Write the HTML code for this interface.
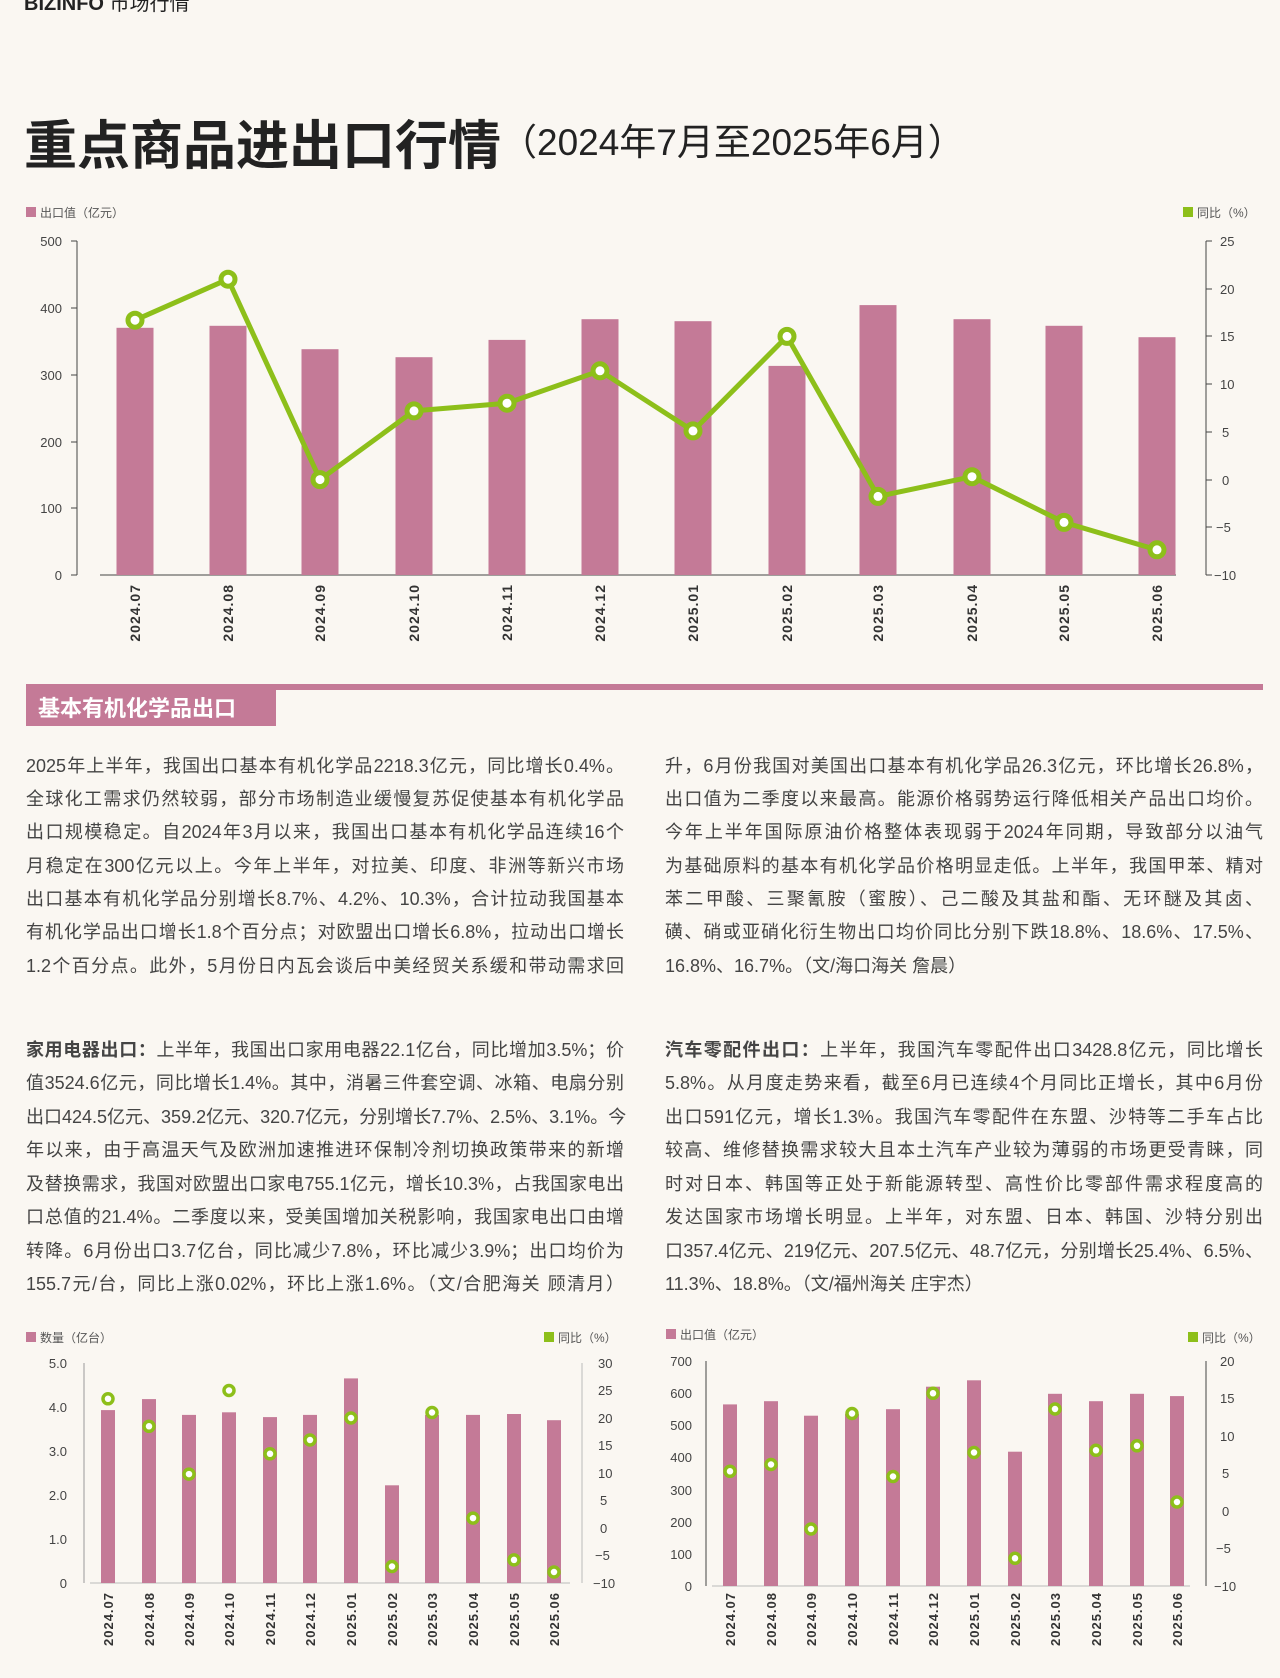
<!DOCTYPE html>
<html><head><meta charset="utf-8"><style>
body{margin:0;background:#faf7f2;}
#p{position:relative;width:1280px;height:1678px;overflow:hidden;background:#faf7f2;font-family:"Liberation Sans","Noto Sans CJK SC",sans-serif;color:#3a3a3a;}
.ln{position:absolute;width:598px;font-size:18px;line-height:20px;white-space:nowrap;text-align:justify;text-align-last:justify;color:#444;}
.ln.e{text-align-last:left;}
svg{position:absolute;left:0;top:0;}
</style></head><body><div id="p">
<svg width="1280" height="1678" font-family="Liberation Sans, Noto Sans CJK SC, sans-serif">
<text x="24" y="10" font-size="20" font-weight="bold" fill="#222">BIZINFO <tspan font-weight="normal">市场行情</tspan></text>
<text x="24" y="164" font-size="53" font-weight="bold" fill="#222">重点商品进出口行情</text>
<text x="500" y="155" font-size="37" fill="#222">（2024年7月至2025年6月）</text>
<rect x="26" y="207" width="10" height="10" fill="#c47a97"/><text x="40" y="217" font-size="12" fill="#555">出口值（亿元）</text>
<rect x="1183" y="207" width="10" height="10" fill="#8dbf1a"/><text x="1197" y="217" font-size="12" fill="#555">同比（%）</text>
<g font-size="13" fill="#444">
<line x1="77" y1="241" x2="77" y2="575" stroke="#444"/>
<line x1="1206" y1="241" x2="1206" y2="575" stroke="#444"/>
<line x1="100" y1="575" x2="1176" y2="575" stroke="#444"/>
<g text-anchor="end"><text x="62" y="246">500</text><text x="62" y="313">400</text><text x="62" y="380">300</text><text x="62" y="447">200</text><text x="62" y="513">100</text><text x="62" y="580">0</text></g>
<g stroke="#444"><line x1="71" y1="241" x2="77" y2="241"/><line x1="71" y1="308" x2="77" y2="308"/><line x1="71" y1="375" x2="77" y2="375"/><line x1="71" y1="442" x2="77" y2="442"/><line x1="71" y1="508" x2="77" y2="508"/><line x1="71" y1="575" x2="77" y2="575"/>
<line x1="1206" y1="241" x2="1212" y2="241"/><line x1="1206" y1="289" x2="1212" y2="289"/><line x1="1206" y1="336" x2="1212" y2="336"/><line x1="1206" y1="384" x2="1212" y2="384"/><line x1="1206" y1="432" x2="1212" y2="432"/><line x1="1206" y1="480" x2="1212" y2="480"/><line x1="1206" y1="527" x2="1212" y2="527"/><line x1="1206" y1="575" x2="1212" y2="575"/></g>
<g><text x="1220" y="246">25</text><text x="1220" y="294">20</text><text x="1220" y="341">15</text><text x="1220" y="389">10</text><text x="1222" y="437">5</text><text x="1222" y="485">0</text><text x="1216" y="532">−5</text><text x="1214" y="580">−10</text></g>
</g>
<g fill="#c47a97">
<rect x="116.5" y="327.8" width="37" height="247.2"/><rect x="209.5" y="325.8" width="37" height="249.2"/><rect x="301.5" y="349.2" width="37" height="225.8"/><rect x="395.5" y="357.2" width="37" height="217.8"/><rect x="488.5" y="339.9" width="37" height="235.1"/><rect x="581.5" y="319.2" width="37" height="255.8"/><rect x="674.5" y="321.2" width="37" height="253.8"/><rect x="768.5" y="365.9" width="37" height="209.1"/><rect x="859.5" y="305.1" width="37" height="269.9"/><rect x="953.5" y="319.2" width="37" height="255.8"/><rect x="1045.5" y="325.8" width="37" height="249.2"/><rect x="1138.5" y="337.2" width="37" height="237.8"/>
</g>
<polyline fill="none" stroke="#8dbf1a" stroke-width="5" stroke-linejoin="round" points="135,320.2 228,279.2 320,479.6 414,410.9 507,403.2 600,370.8 693,430.9 787,336.4 878,496.4 972,476.7 1064,522.4 1157,549.8"/>
<g fill="#fff" stroke="#8dbf1a" stroke-width="5">
<circle cx="135" cy="320.2" r="7"/><circle cx="228" cy="279.2" r="7"/><circle cx="320" cy="479.6" r="7"/><circle cx="414" cy="410.9" r="7"/><circle cx="507" cy="403.2" r="7"/><circle cx="600" cy="370.8" r="7"/><circle cx="693" cy="430.9" r="7"/><circle cx="787" cy="336.4" r="7"/><circle cx="878" cy="496.4" r="7"/><circle cx="972" cy="476.7" r="7"/><circle cx="1064" cy="522.4" r="7"/><circle cx="1157" cy="549.8" r="7"/>
</g>
<g font-size="14" font-weight="bold" fill="#333" text-anchor="end" letter-spacing="1">
<text transform="translate(140,584) rotate(-90)">2024.07</text><text transform="translate(233,584) rotate(-90)">2024.08</text><text transform="translate(325,584) rotate(-90)">2024.09</text><text transform="translate(419,584) rotate(-90)">2024.10</text><text transform="translate(512,584) rotate(-90)">2024.11</text><text transform="translate(605,584) rotate(-90)">2024.12</text><text transform="translate(698,584) rotate(-90)">2025.01</text><text transform="translate(792,584) rotate(-90)">2025.02</text><text transform="translate(883,584) rotate(-90)">2025.03</text><text transform="translate(977,584) rotate(-90)">2025.04</text><text transform="translate(1069,584) rotate(-90)">2025.05</text><text transform="translate(1162,584) rotate(-90)">2025.06</text>
</g>
<rect x="26" y="684" width="1237" height="6" fill="#c47a97"/>
<rect x="26" y="690" width="250" height="36" fill="#c47a97"/>
<text x="38" y="716" font-size="22" font-weight="bold" fill="#fff">基本有机化学品出口</text>

<rect x="26" y="1332" width="10" height="10" fill="#c47a97"/><text x="40" y="1342" font-size="12" fill="#555">数量（亿台）</text>
<rect x="544" y="1332" width="10" height="10" fill="#8dbf1a"/><text x="558" y="1342" font-size="12" fill="#555">同比（%）</text>
<g font-size="13" fill="#444">
<line x1="84" y1="1363" x2="84" y2="1583" stroke="#999"/>
<line x1="582" y1="1363" x2="582" y2="1583" stroke="#bbb"/>
<line x1="90" y1="1583" x2="570" y2="1583" stroke="#bbb"/>
<g text-anchor="end"><text x="67" y="1368">5.0</text><text x="67" y="1412">4.0</text><text x="67" y="1456">3.0</text><text x="67" y="1500">2.0</text><text x="67" y="1544">1.0</text><text x="67" y="1588">0</text></g>
<g><text x="598" y="1368">30</text><text x="598" y="1395">25</text><text x="598" y="1423">20</text><text x="598" y="1450">15</text><text x="598" y="1478">10</text><text x="600" y="1505">5</text><text x="600" y="1533">0</text><text x="595" y="1560">−5</text><text x="593" y="1588">−10</text></g>
</g>
<g fill="#c47a97">
<rect x="101" y="1410.1" width="14" height="172.9"/><rect x="142" y="1399.1" width="14" height="183.9"/><rect x="182" y="1414.9" width="14" height="168.1"/><rect x="222" y="1412.3" width="14" height="170.7"/><rect x="263" y="1417.1" width="14" height="165.9"/><rect x="303" y="1414.9" width="14" height="168.1"/><rect x="344" y="1378.4" width="14" height="204.6"/><rect x="385" y="1485.3" width="14" height="97.7"/><rect x="425" y="1414.9" width="14" height="168.1"/><rect x="466" y="1414.9" width="14" height="168.1"/><rect x="507" y="1414" width="14" height="169"/><rect x="547" y="1420.2" width="14" height="162.8"/>
</g>
<g fill="#fff" stroke="#8dbf1a" stroke-width="3.5">
<circle cx="108" cy="1398.8" r="5"/><circle cx="149" cy="1426.3" r="5"/><circle cx="189" cy="1474.1" r="5"/><circle cx="229" cy="1390.5" r="5"/><circle cx="270" cy="1453.8" r="5"/><circle cx="310" cy="1440" r="5"/><circle cx="351" cy="1418" r="5"/><circle cx="392" cy="1566.5" r="5"/><circle cx="432" cy="1412.5" r="5"/><circle cx="473" cy="1518.1" r="5"/><circle cx="514" cy="1559.9" r="5"/><circle cx="554" cy="1572" r="5"/>
</g>
<g font-size="13" font-weight="bold" fill="#333" text-anchor="end" letter-spacing="1">
<text transform="translate(113,1592) rotate(-90)">2024.07</text><text transform="translate(154,1592) rotate(-90)">2024.08</text><text transform="translate(194,1592) rotate(-90)">2024.09</text><text transform="translate(234,1592) rotate(-90)">2024.10</text><text transform="translate(275,1592) rotate(-90)">2024.11</text><text transform="translate(315,1592) rotate(-90)">2024.12</text><text transform="translate(356,1592) rotate(-90)">2025.01</text><text transform="translate(397,1592) rotate(-90)">2025.02</text><text transform="translate(437,1592) rotate(-90)">2025.03</text><text transform="translate(478,1592) rotate(-90)">2025.04</text><text transform="translate(519,1592) rotate(-90)">2025.05</text><text transform="translate(559,1592) rotate(-90)">2025.06</text>
</g>

<rect x="666" y="1329" width="10" height="10" fill="#c47a97"/><text x="680" y="1339" font-size="12" fill="#555">出口值（亿元）</text>
<rect x="1188" y="1332" width="10" height="10" fill="#8dbf1a"/><text x="1202" y="1342" font-size="12" fill="#555">同比（%）</text>
<g font-size="13" fill="#444">
<line x1="706" y1="1361" x2="706" y2="1586" stroke="#444"/>
<line x1="1206" y1="1361" x2="1206" y2="1586" stroke="#444"/>
<line x1="712" y1="1586" x2="1190" y2="1586" stroke="#bbb"/>
<g text-anchor="end"><text x="692" y="1366">700</text><text x="692" y="1398">600</text><text x="692" y="1430">500</text><text x="692" y="1462">400</text><text x="692" y="1495">300</text><text x="692" y="1527">200</text><text x="692" y="1559">100</text><text x="692" y="1591">0</text></g>
<g><text x="1220" y="1366">20</text><text x="1220" y="1403">15</text><text x="1220" y="1441">10</text><text x="1222" y="1478">5</text><text x="1222" y="1516">0</text><text x="1216" y="1553">−5</text><text x="1214" y="1591">−10</text></g>
</g>
<g fill="#c47a97">
<rect x="723" y="1404.4" width="14" height="181.6"/><rect x="764" y="1401.2" width="14" height="184.8"/><rect x="804" y="1415.7" width="14" height="170.3"/><rect x="845" y="1414.1" width="14" height="171.9"/><rect x="886" y="1409.2" width="14" height="176.8"/><rect x="926" y="1386.7" width="14" height="199.3"/><rect x="967" y="1380.3" width="14" height="205.7"/><rect x="1008" y="1451.7" width="14" height="134.3"/><rect x="1048" y="1393.8" width="14" height="192.2"/><rect x="1089" y="1401.2" width="14" height="184.8"/><rect x="1130" y="1393.8" width="14" height="192.2"/><rect x="1170" y="1396.1" width="14" height="189.9"/>
</g>
<g fill="#fff" stroke="#8dbf1a" stroke-width="3.5">
<circle cx="730" cy="1471.3" r="5"/><circle cx="771" cy="1464.5" r="5"/><circle cx="811" cy="1529" r="5"/><circle cx="852" cy="1413.5" r="5"/><circle cx="893" cy="1476.5" r="5"/><circle cx="933" cy="1393.3" r="5"/><circle cx="974" cy="1452.5" r="5"/><circle cx="1015" cy="1558.3" r="5"/><circle cx="1055" cy="1409" r="5"/><circle cx="1096" cy="1450.3" r="5"/><circle cx="1137" cy="1445.8" r="5"/><circle cx="1177" cy="1502" r="5"/>
</g>
<g font-size="13" font-weight="bold" fill="#333" text-anchor="end" letter-spacing="1">
<text transform="translate(735,1592) rotate(-90)">2024.07</text><text transform="translate(776,1592) rotate(-90)">2024.08</text><text transform="translate(816,1592) rotate(-90)">2024.09</text><text transform="translate(857,1592) rotate(-90)">2024.10</text><text transform="translate(898,1592) rotate(-90)">2024.11</text><text transform="translate(938,1592) rotate(-90)">2024.12</text><text transform="translate(979,1592) rotate(-90)">2025.01</text><text transform="translate(1020,1592) rotate(-90)">2025.02</text><text transform="translate(1060,1592) rotate(-90)">2025.03</text><text transform="translate(1101,1592) rotate(-90)">2025.04</text><text transform="translate(1142,1592) rotate(-90)">2025.05</text><text transform="translate(1182,1592) rotate(-90)">2025.06</text>
</g>
</svg>

<div class="ln" style="left:26px;top:756px">2025年上半年，我国出口基本有机化学品2218.3亿元，同比增长0.4%。</div>
<div class="ln" style="left:26px;top:789px">全球化工需求仍然较弱，部分市场制造业缓慢复苏促使基本有机化学品</div>
<div class="ln" style="left:26px;top:822px">出口规模稳定。自2024年3月以来，我国出口基本有机化学品连续16个</div>
<div class="ln" style="left:26px;top:856px">月稳定在300亿元以上。今年上半年，对拉美、印度、非洲等新兴市场</div>
<div class="ln" style="left:26px;top:889px">出口基本有机化学品分别增长8.7%、4.2%、10.3%，合计拉动我国基本</div>
<div class="ln" style="left:26px;top:922px">有机化学品出口增长1.8个百分点；对欧盟出口增长6.8%，拉动出口增长</div>
<div class="ln" style="left:26px;top:956px">1.2个百分点。此外，5月份日内瓦会谈后中美经贸关系缓和带动需求回</div>

<div class="ln" style="left:665px;top:756px">升，6月份我国对美国出口基本有机化学品26.3亿元，环比增长26.8%，</div>
<div class="ln" style="left:665px;top:789px">出口值为二季度以来最高。能源价格弱势运行降低相关产品出口均价。</div>
<div class="ln" style="left:665px;top:822px">今年上半年国际原油价格整体表现弱于2024年同期，导致部分以油气</div>
<div class="ln" style="left:665px;top:856px">为基础原料的基本有机化学品价格明显走低。上半年，我国甲苯、精对</div>
<div class="ln" style="left:665px;top:889px">苯二甲酸、三聚氰胺（蜜胺）、己二酸及其盐和酯、无环醚及其卤、</div>
<div class="ln" style="left:665px;top:922px">磺、硝或亚硝化衍生物出口均价同比分别下跌18.8%、18.6%、17.5%、</div>
<div class="ln e" style="left:665px;top:956px">16.8%、16.7%。（文/海口海关 詹晨）</div>

<div class="ln" style="left:26px;top:1040px"><b>家用电器出口：</b>上半年，我国出口家用电器22.1亿台，同比增加3.5%；价</div>
<div class="ln" style="left:26px;top:1073px">值3524.6亿元，同比增长1.4%。其中，消暑三件套空调、冰箱、电扇分别</div>
<div class="ln" style="left:26px;top:1107px">出口424.5亿元、359.2亿元、320.7亿元，分别增长7.7%、2.5%、3.1%。今</div>
<div class="ln" style="left:26px;top:1140px">年以来，由于高温天气及欧洲加速推进环保制冷剂切换政策带来的新增</div>
<div class="ln" style="left:26px;top:1174px">及替换需求，我国对欧盟出口家电755.1亿元，增长10.3%，占我国家电出</div>
<div class="ln" style="left:26px;top:1207px">口总值的21.4%。二季度以来，受美国增加关税影响，我国家电出口由增</div>
<div class="ln" style="left:26px;top:1241px">转降。6月份出口3.7亿台，同比减少7.8%，环比减少3.9%；出口均价为</div>
<div class="ln" style="left:26px;top:1274px">155.7元/台，同比上涨0.02%，环比上涨1.6%。（文/合肥海关 顾清月）</div>

<div class="ln" style="left:665px;top:1040px"><b>汽车零配件出口：</b>上半年，我国汽车零配件出口3428.8亿元，同比增长</div>
<div class="ln" style="left:665px;top:1073px">5.8%。从月度走势来看，截至6月已连续4个月同比正增长，其中6月份</div>
<div class="ln" style="left:665px;top:1107px">出口591亿元，增长1.3%。我国汽车零配件在东盟、沙特等二手车占比</div>
<div class="ln" style="left:665px;top:1140px">较高、维修替换需求较大且本土汽车产业较为薄弱的市场更受青睐，同</div>
<div class="ln" style="left:665px;top:1174px">时对日本、韩国等正处于新能源转型、高性价比零部件需求程度高的</div>
<div class="ln" style="left:665px;top:1207px">发达国家市场增长明显。上半年，对东盟、日本、韩国、沙特分别出</div>
<div class="ln" style="left:665px;top:1241px">口357.4亿元、219亿元、207.5亿元、48.7亿元，分别增长25.4%、6.5%、</div>
<div class="ln e" style="left:665px;top:1274px">11.3%、18.8%。（文/福州海关 庄宇杰）</div>
</div></body></html>
